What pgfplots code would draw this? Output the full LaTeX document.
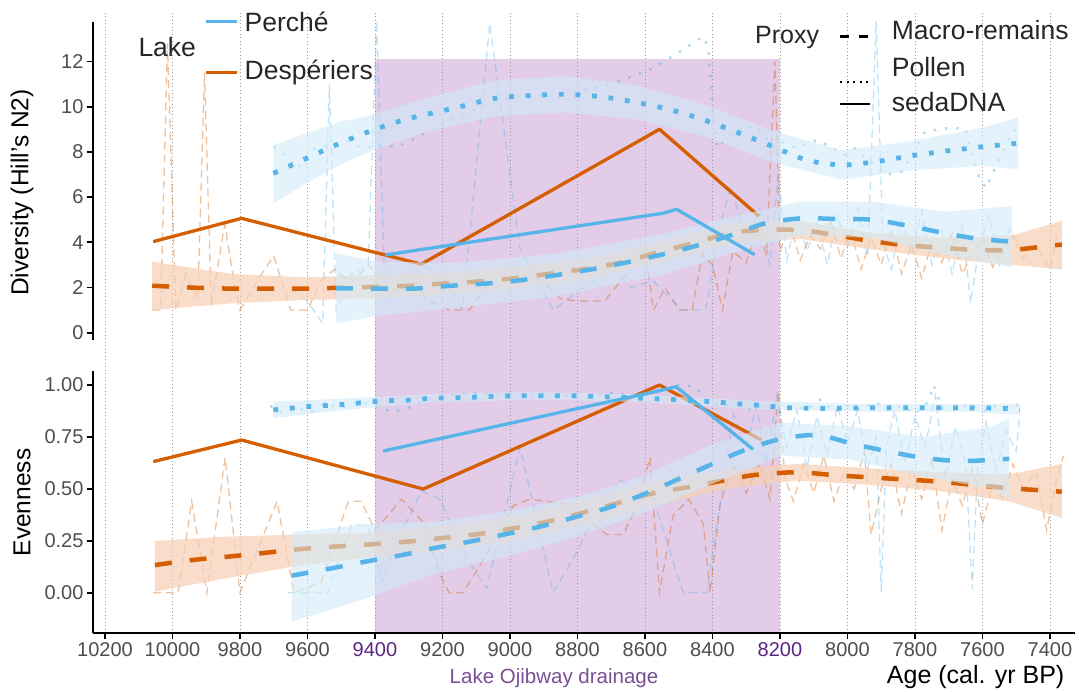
\documentclass[border=0pt]{standalone}
\usepackage{pgfplots}
\pgfplotsset{compat=1.18}
\usepackage{fontspec}
\setmainfont{Liberation Sans}
\definecolor{blueC}{HTML}{56B4E9}
\definecolor{oraC}{HTML}{D55E00}
\definecolor{purpBG}{HTML}{E2CCE8}
\definecolor{purpTxt}{HTML}{5C2483}
\definecolor{purpLab}{HTML}{7A4E96}
\definecolor{tickgrey}{HTML}{4D4D4D}
\definecolor{blueBand}{HTML}{D2EAF8}
\definecolor{oraBand}{HTML}{F6CFB3}
\begin{document}
\begin{tikzpicture}[x=1pt,y=1pt]
\path[use as bounding box] (0,0) rectangle (1079,692);
\pgfplotsset{
  common/.style={scale only axis, x dir=reverse, xmin=7324.4, xmax=10236.4,
    width=982.8pt, anchor=south west, scaled ticks=false},
  spines/.style={axis line style={line width=2pt, black},
    every outer x axis line/.append style={line width=2pt, black},
    every outer y axis line/.append style={line width=2pt, black},
    tick style={line width=1.8pt, black}, tick align=outside, major tick length=6pt},
  rawO/.style={oraC, opacity=0.38, line width=1.3pt, dash pattern=on 8pt off 5pt},
  rawB/.style={blueC, opacity=0.38, line width=1.3pt, dash pattern=on 8pt off 5pt},
  rawP/.style={blueC, opacity=0.5, line width=2.4pt, dash pattern=on 2.4pt off 9pt},
  smMac/.style={line width=4.5pt, dash pattern=on 17pt off 18pt, smooth, tension=0.5},
  smPol/.style={line width=4.8pt, dash pattern=on 4.8pt off 11.8pt, smooth, tension=0.5},
  seda/.style={line width=3.3pt, line join=round},
  bandB/.style={fill=blueBand, fill opacity=0.6, draw=none},
  bandO/.style={fill=oraBand, fill opacity=0.7, draw=none},
  tl/.style={font=\fontsize{20}{24}\selectfont, text=tickgrey},
}
% background: purple shading and grid
\begin{axis}[common, at={(92.7pt,58.7pt)}, height=621.3pt, ymin=58.7, ymax=682,
  axis on top, axis line style={draw=none}, xtick={7400,7600,...,10200},
  xticklabels={}, ytick=\empty, major tick length=0pt, xmajorgrids,
  grid style={gray!80, line width=0.8pt, dash pattern=on 1pt off 2.5pt}]
\addplot[fill=purpBG, draw=none] coordinates {(9400,58.7)(8200,58.7)(8200,635.3)(9400,635.3)} -- cycle;
\end{axis}
% top panel
\begin{axis}[common, spines, at={(92.7pt,352pt)}, height=318.3pt, ymin=-0.323, ymax=13.761,
  axis x line=none, axis y line*=left, xtick=\empty, ytick={0,2,4,6,8,10,12},
  yticklabels={0,2,4,6,8,10,12}, yticklabel style={tl, inner xsep=3pt}]
\addplot[rawO] coordinates {(10060,1.0)(10035,1.0)(10015,12.8)(9990,1.0)(9960,2.6)(9925,1.5)(9905,11.5)(9885,1.2)(9845,4.8)(9815,2.0)(9800,1.0)(9740,2.5)(9700,3.4)(9650,1.0)(9600,1.0)(9560,2.3)(9520,2.8)(9470,2.2)(9420,3.0)(9360,2.0)(9300,2.6)(9250,1.5)(9180,1.0)(9120,1.0)(9060,2.2)(9000,2.9)(8950,2.8)(8900,2.2)(8850,1.5)(8800,1.4)(8720,1.4)(8660,2.5)(8600,3.8)(8575,1.0)(8540,2.0)(8500,1.0)(8460,1.0)(8430,3.5)(8400,3.0)(8370,1.0)(8340,3.6)(8300,3.1)(8270,4.5)(8240,3.5)(8215,12.0)(8200,3.6)(8170,4.8)(8140,3.2)(8110,4.3)(8080,3.7)(8050,5.0)(8020,3.3)(7990,4.5)(7960,2.8)(7930,4.2)(7900,3.0)(7870,4.6)(7840,2.6)(7810,3.9)(7780,2.4)(7750,4.0)(7720,3.1)(7690,4.4)(7660,2.6)(7630,3.5)(7600,4.2)(7570,2.9)(7540,3.8)(7510,4.3)(7480,3.3)(7440,3.9)(7400,2.8)(7380,4.3)};
\addplot[rawB] coordinates {(9650,1.9)(9600,1.4)(9555,0.4)(9535,11.0)(9515,1.0)(9470,2.6)(9420,3.0)(9395,13.8)(9370,1.5)(9320,2.2)(9250,2.9)(9200,2.5)(9140,1.0)(9060,13.7)(8970,3.7)(8872,1.0)(8800,1.8)(8700,2.8)(8640,2.0)(8576,2.3)(8490,1.0)(8420,1.0)(8380,4.6)(8345,6.5)(8300,4.0)(8260,5.5)(8230,3.0)(8205,7.0)(8180,3.2)(8150,5.3)(8120,3.6)(8090,4.9)(8060,3.0)(8030,5.2)(8000,3.8)(7970,5.5)(7940,3.4)(7915,13.8)(7895,4.0)(7870,2.8)(7840,5.0)(7810,3.5)(7780,5.4)(7750,3.0)(7720,4.5)(7690,2.6)(7660,4.8)(7635,1.3)(7610,3.8)(7580,5.2)(7550,3.0)(7520,4.6)(7490,3.8)};
\addplot[rawP] coordinates {(9700,8.23)(9665,7.86)(9631,7.27)(9578,8.16)(9480,8.45)(9438,8.16)(9380,8.3)(9332,8.23)(9281,8.6)(9246,8.9)(9207,9.19)(9169,9.48)(9094,9.92)(9009,10.37)(8919,10.5)(8813,10.59)(8733,10.89)(8654,11.25)(8576,11.7)(8505,12.36)(8428,13.1)(8413,12.66)(8405,11.1)(8398,9.6)(8386,8.16)(8340,8.9)(8273,9.19)(8223,8.2)(8194,8.45)(8150,8.16)(8090,8.53)(8007,7.87)(7977,8.16)(7888,6.98)(7838,7.13)(7770,8.9)(7710,9.04)(7651,9.04)(7613,6.98)(7590,6.39)(7512,8.9)(7494,9.04)};
% Desperiers macro band + smooth
\addplot[bandO] coordinates {(10060,3.14)(9825,2.6)(9607,2.45)(9400,2.55)(9197,2.65)(8980,2.9)(8763,3.3)(8560,4.0)(8348,4.85)(8141,4.93)(7933,4.42)(7726,4.2)(7513,4.3)(7365,4.95)(7365,2.8)(7513,3.0)(7726,3.3)(7933,3.7)(8141,4.15)(8348,3.95)(8560,3.1)(8763,2.4)(8980,1.95)(9197,1.7)(9400,1.5)(9607,1.45)(9825,1.3)(10060,1.0)} -- cycle;
\addplot[smMac, oraC] coordinates {(10060,2.08)(9933,1.99)(9825,1.95)(9716,1.95)(9607,1.95)(9500,1.99)(9400,2.03)(9288,2.08)(9197,2.18)(9089,2.27)(8980,2.42)(8872,2.63)(8763,2.85)(8664,3.13)(8560,3.56)(8457,3.96)(8348,4.4)(8259,4.54)(8141,4.54)(8037,4.32)(7933,4.06)(7830,3.88)(7726,3.76)(7622,3.66)(7513,3.66)(7400,3.85)(7365,3.9)};
% Desperiers sedaDNA
\addplot[seda, oraC] coordinates {(10057,4.03)(9795,5.06)(9263,3.03)(8557,9.0)(8262,5.15)};
% Perche macro band + smooth
\addplot[bandB] coordinates {(9516,3.51)(9390,3.15)(9173,3.08)(8862,3.5)(8546,4.37)(8338,5.15)(8136,5.81)(7928,5.8)(7711,5.35)(7513,5.6)(7513,2.9)(7711,3.45)(7928,4.2)(8136,4.31)(8338,3.55)(8546,2.57)(8862,1.6)(9173,1.08)(9390,0.75)(9516,0.41)} -- cycle;
\addplot[smMac, blueC] coordinates {(9516,1.96)(9390,1.95)(9283,1.95)(9173,2.08)(9064,2.18)(8965,2.33)(8862,2.55)(8753,2.82)(8654,3.11)(8546,3.47)(8447,3.85)(8338,4.35)(8244,4.84)(8136,5.06)(8032,5.03)(7928,5.0)(7820,4.73)(7711,4.4)(7612,4.15)(7513,4.03)};
% Perche pollen band + smooth
\addplot[bandB] coordinates {(9701,8.30)(9602,8.82)(9504,9.33)(9405,9.63)(9250,10.38)(9044,11.17)(8837,11.35)(8625,10.94)(8417,10.07)(8220,8.93)(8017,8.07)(7810,8.48)(7598,9.08)(7494,9.53)(7494,7.23)(7598,7.38)(7810,7.18)(8017,6.77)(8220,7.53)(8417,8.67)(8625,9.44)(8837,9.75)(9044,9.57)(9250,8.88)(9405,8.08)(9504,7.43)(9602,6.62)(9701,5.73)} -- cycle;
\addplot[smPol, blueC] coordinates {(9701,7.05)(9602,7.72)(9504,8.38)(9405,8.97)(9306,9.45)(9200,9.82)(9148,10.0)(9044,10.37)(8941,10.49)(8837,10.55)(8730,10.44)(8625,10.19)(8521,9.85)(8417,9.37)(8319,8.82)(8220,8.23)(8121,7.64)(8017,7.42)(7914,7.57)(7810,7.83)(7706,8.04)(7598,8.23)(7494,8.38)};
% Perche sedaDNA
\addplot[seda, blueC] coordinates {(9370,3.44)(8548,5.28)(8506,5.46)(8275,3.45)};
\end{axis}
% bottom panel
\begin{axis}[common, spines, at={(92.7pt,58.7pt)}, height=262.3pt, ymin=-0.1955, ymax=1.0674,
  axis x line*=bottom, axis y line*=left,
  xtick={7400,7600,7800,8000,8200,8400,8600,8800,9000,9200,9400,9600,9800,10000,10200},
  xticklabels={7400,7600,7800,8000,\textcolor{purpTxt}{8200},8400,8600,8800,9000,9200,\textcolor{purpTxt}{9400},9600,9800,10000,10200},
  ytick={0,0.25,0.5,0.75,1}, yticklabels={0.00,0.25,0.50,0.75,1.00},
  yticklabel style={tl, inner xsep=3pt}, xticklabel style={tl}]
\addplot[rawO] coordinates {(10057,0.0)(9983,0.0)(9943,0.44)(9898,0.0)(9844,0.65)(9800,0.0)(9750,0.2)(9690,0.44)(9640,0.0)(9560,0.05)(9479,0.44)(9440,0.44)(9400,0.3)(9321,0.45)(9257,0.34)(9207,0.085)(9180,0.0)(9139,0.0)(9089,0.13)(8990,0.42)(8941,0.45)(8892,0.44)(8813,0.42)(8753,0.33)(8713,0.28)(8664,0.28)(8624,0.42)(8585,0.65)(8557,0.0)(8517,0.37)(8470,0.45)(8427,0.33)(8407,0.0)(8378,0.42)(8338,0.62)(8300,0.48)(8260,0.62)(8230,0.45)(8205,0.97)(8185,0.55)(8160,0.44)(8130,0.62)(8100,0.48)(8070,0.66)(8040,0.44)(8010,0.58)(7980,0.5)(7950,0.68)(7930,0.28)(7900,0.5)(7870,0.62)(7840,0.38)(7810,0.6)(7780,0.45)(7750,0.65)(7720,0.3)(7690,0.55)(7660,0.42)(7630,0.6)(7600,0.33)(7570,0.52)(7540,0.45)(7510,0.62)(7480,0.5)(7440,0.58)(7410,0.3)(7380,0.55)(7360,0.66)};
\addplot[rawB] coordinates {(9657,0.0)(9539,0.0)(9500,0.2)(9468,0.33)(9420,0.32)(9379,0.05)(9320,0.3)(9261,0.49)(9207,0.45)(9140,0.2)(9069,0.02)(8970,0.7)(8872,0.0)(8800,0.2)(8753,0.37)(8674,0.54)(8575,0.45)(8487,0.0)(8417,0.0)(8378,0.42)(8338,0.86)(8300,0.7)(8270,0.9)(8240,0.62)(8210,0.95)(8180,0.7)(8150,0.88)(8120,0.6)(8090,0.85)(8060,0.66)(8030,0.9)(8000,0.72)(7970,0.88)(7940,0.6)(7915,0.75)(7900,0.0)(7885,0.7)(7860,0.88)(7830,0.62)(7800,0.85)(7770,0.7)(7740,0.95)(7710,0.55)(7680,0.8)(7650,0.62)(7630,0.02)(7615,0.6)(7590,0.82)(7560,0.58)(7530,0.78)(7500,0.68)(7490,0.85)};
\addplot[rawP] coordinates {(9710,0.9)(9670,0.86)(9630,0.89)(9590,0.87)(9550,0.91)(9500,0.89)(9450,0.92)(9400,0.9)(9350,0.87)(9300,0.89)(9250,0.93)(9200,0.95)(9100,0.96)(9000,0.95)(8900,0.96)(8800,0.94)(8700,0.96)(8600,0.95)(8550,0.98)(8500,1.0)(8450,0.99)(8420,0.93)(8380,0.9)(8330,0.91)(8280,0.88)(8240,0.91)(8200,0.87)(8160,0.9)(8120,0.88)(8080,0.93)(8040,0.87)(8000,0.9)(7960,0.88)(7920,0.92)(7880,0.88)(7840,0.9)(7800,0.86)(7760,0.92)(7745,1.0)(7720,0.89)(7680,0.88)(7640,0.91)(7600,0.87)(7560,0.9)(7520,0.89)(7490,0.91)};
\addplot[bandO] coordinates {(10052,0.249)(9839,0.27)(9627,0.28)(9410,0.29)(9207,0.32)(8990,0.37)(8773,0.45)(8575,0.54)(8357,0.59)(8151,0.62)(7943,0.6)(7731,0.58)(7522,0.57)(7365,0.62)(7365,0.36)(7522,0.44)(7731,0.49)(7943,0.52)(8151,0.54)(8357,0.5)(8575,0.42)(8773,0.33)(8990,0.25)(9207,0.2)(9410,0.17)(9627,0.13)(9839,0.07)(10052,0.005)} -- cycle;
\addplot[smMac, oraC] coordinates {(10052,0.133)(9943,0.157)(9839,0.173)(9736,0.19)(9627,0.209)(9519,0.222)(9410,0.233)(9301,0.246)(9207,0.262)(9099,0.281)(8990,0.31)(8881,0.345)(8773,0.39)(8674,0.435)(8575,0.479)(8466,0.51)(8357,0.543)(8274,0.567)(8151,0.58)(8047,0.567)(7943,0.556)(7839,0.546)(7731,0.535)(7627,0.519)(7522,0.503)(7408,0.491)(7365,0.486)};
\addplot[seda, oraC] coordinates {(10057,0.631)(9795,0.735)(9257,0.499)(8557,1.0)(8255,0.735)};
\addplot[bandB] coordinates {(9647,0.29)(9430,0.33)(9227,0.34)(9015,0.39)(8802,0.46)(8610,0.56)(8407,0.71)(8198,0.82)(7990,0.8)(7778,0.75)(7570,0.8)(7521,0.84)(7521,0.45)(7570,0.5)(7778,0.56)(7990,0.64)(8198,0.66)(8407,0.52)(8610,0.38)(8802,0.27)(9015,0.17)(9227,0.09)(9430,-0.03)(9647,-0.14)} -- cycle;
\addplot[smMac, blueC] coordinates {(9647,0.082)(9539,0.114)(9430,0.149)(9321,0.181)(9227,0.214)(9119,0.246)(9015,0.281)(8911,0.318)(8802,0.366)(8699,0.414)(8610,0.47)(8506,0.543)(8407,0.615)(8304,0.687)(8198,0.74)(8089,0.759)(7990,0.719)(7886,0.682)(7778,0.65)(7674,0.634)(7570,0.639)(7521,0.645)};
\addplot[bandB] coordinates {(9701,0.92)(9489,0.935)(9232,0.957)(8920,0.966)(8605,0.954)(8274,0.924)(7955,0.908)(7642,0.908)(7489,0.91)(7489,0.855)(7642,0.872)(7955,0.872)(8274,0.884)(8605,0.918)(8920,0.93)(9232,0.915)(9489,0.88)(9701,0.84)} -- cycle;
\addplot[smPol, blueC] coordinates {(9701,0.88)(9600,0.896)(9489,0.907)(9380,0.923)(9286,0.928)(9232,0.936)(9130,0.94)(9024,0.947)(8920,0.948)(8815,0.948)(8714,0.943)(8605,0.936)(8506,0.929)(8407,0.92)(8333,0.91)(8274,0.904)(8174,0.89)(8065,0.887)(7955,0.89)(7846,0.89)(7751,0.89)(7642,0.89)(7533,0.887)(7489,0.88)};
\addplot[seda, blueC] coordinates {(9376,0.682)(8550,0.975)(8508,0.992)(8280,0.69)};
\end{axis}
% axis titles and notes
\node[rotate=90, font=\fontsize{24.5}{28}\selectfont] at (22,499.5) {Diversity (Hill's N2)};
\node[rotate=90, font=\fontsize{24.5}{28}\selectfont] at (22,189.5) {Evenness};
\node[font=\fontsize{25}{28}\selectfont] at (975.6,15) {Age (cal. yr BP)};
\node[font=\fontsize{20.5}{24}\selectfont, text=purpLab] at (554,14) {Lake Ojibway drainage};
% Lake legend
\node[anchor=base west, inner sep=0pt, font=\fontsize{26.5}{30}\selectfont, text=black!85] at (138.3,635.3) {Lake};
\draw[blueC, line width=3.5pt] (206,670.3) -- (236.7,670.3);
\node[anchor=base west, inner sep=0pt, font=\fontsize{26.5}{30}\selectfont, text=black!85] at (244.5,660.3) {Perché};
\draw[oraC, line width=3.5pt] (206,619.7) -- (236.7,619.7);
\node[anchor=base west, inner sep=0pt, font=\fontsize{26.5}{30}\selectfont, text=black!85] at (244.5,612) {Despériers};
% Proxy legend
\node[anchor=base west, inner sep=0pt, font=\fontsize{25}{30}\selectfont, text=black!85] at (755,648.7) {Proxy};
\draw[black, line width=2.4pt] (840,655.3) -- (849,655.3);
\draw[black, line width=2.4pt] (859.3,655.3) -- (868.3,655.3);
\node[anchor=base west, inner sep=0pt, font=\fontsize{26.5}{30}\selectfont, text=black!85] at (891.7,652) {Macro-remains};
\draw[black, line width=2pt, dash pattern=on 2pt off 4.5pt] (840,610.3) -- (870,610.3);
\node[anchor=base west, inner sep=0pt, font=\fontsize{26.5}{30}\selectfont, text=black!85] at (891.7,615.3) {Pollen};
\draw[black, line width=2.4pt] (840,587.7) -- (870,587.7);
\node[anchor=base west, inner sep=0pt, font=\fontsize{26.5}{30}\selectfont, text=black!85] at (891.7,580.3) {sedaDNA};
\end{tikzpicture}
\end{document}
